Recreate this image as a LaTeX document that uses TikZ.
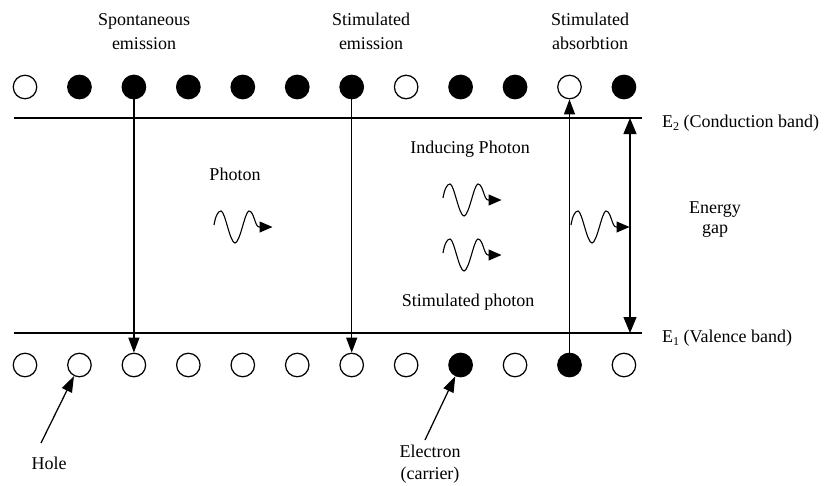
\documentclass[tikz,border=0pt]{standalone}
\usepackage{fontspec}
\setmainfont{Liberation Serif}
\usetikzlibrary{arrows.meta}
\begin{document}
\begin{tikzpicture}[x=1pt,y=-1pt,
  lw/.style={line width=1.25pt},
  hole/.style={circle, draw, lw, minimum size=23.5pt, inner sep=0pt, fill=white},
  elec/.style={hole, fill=black},
  band/.style={line width=1.3pt},
  trans/.style={lw, -{Triangle[length=15pt,width=11pt]}},
  gaparrow/.style={lw, {Triangle[length=16pt,width=13pt]}-{Triangle[length=16pt,width=13pt]}},
  pointer/.style={lw, -{Triangle[length=16pt,width=11pt]}},
  lbl/.style={font=\fontsize{18}{22}\selectfont, inner sep=0pt, anchor=base},
  wave/.style={line width=1.1pt, -{Triangle[length=13pt,width=11pt]}},
  photon/.pic={\draw[wave] (0,0) .. controls (1.5,-9) and (4,-14) .. (7,-14)
     .. controls (11,-14) and (16,18) .. (21,18)
     .. controls (26,18) and (31,-14) .. (35,-14)
     .. controls (40,-14) and (41,2) .. (45,2) -- (58.5,2);}
]
\fill[white] (0,0) rectangle (830,485);
\useasboundingbox (0,0) rectangle (830,485);

% energy bands
\coordinate (tl) at (14,118);
\coordinate (tr) at (642,118);
\coordinate (bl) at (14,333);
\coordinate (br) at (642,333);
\draw[band] (tl) -- (tr);
\draw[band] (bl) -- (br);

% carriers
\foreach \i/\s in {1/hole,2/elec,3/elec,4/elec,5/elec,6/elec,7/elec,8/hole,9/elec,10/elec,11/hole,12/elec}
  \node[\s] (t\i) at ({25+54.45*(\i-1)},87) {};
\foreach \i/\s in {1/hole,2/hole,3/hole,4/hole,5/hole,6/hole,7/hole,8/hole,9/elec,10/hole,11/elec,12/hole}
  \node[\s] (b\i) at ({25+54.45*(\i-1)},365) {};

% transitions
\draw[trans] (t3) -- (b3);
\draw[trans] (t7) -- (b7);
\draw[trans] (b11) -- (t11);

% energy gap
\coordinate (g1) at (630,118);
\coordinate (g2) at (630,333);
\draw[gaparrow] (g1) -- (g2);

% photons
\pic at (214,225) {photon};
\pic at (443,198) {photon};
\pic at (443,253) {photon};
\pic at (571,225) {photon};

% pointers
\coordinate (holetail) at (41,443);
\coordinate (etail) at (425,440);
\draw[pointer] (holetail) -- (b2);
\draw[pointer] (etail) -- (b9);

% labels
\node[lbl] (sp1) at (144,25) {Spontaneous};
\node[lbl] (sp2) at (144,49) {emission};
\node[lbl] (se1) at (371,25) {Stimulated};
\node[lbl] (se2) at (371,49) {emission};
\node[lbl] (sa1) at (590,25) {Stimulated};
\node[lbl] (sa2) at (590,49) {absorbtion};
\node[lbl] (ph) at (235,180) {Photon};
\node[lbl] (ind) at (470,153) {Inducing Photon};
\node[lbl] (stp) at (468,306) {Stimulated photon};
\node[lbl, anchor=base west] (e2) at (662,127) {E{\fontsize{12}{12}\selectfont\raisebox{-3pt}{2}} (Conduction band)};
\node[lbl, anchor=base west] (e1) at (662,342) {E{\fontsize{12}{12}\selectfont\raisebox{-3pt}{1}} (Valence band)};
\node[lbl] (en1) at (715,213) {Energy};
\node[lbl] (en2) at (715,233) {gap};
\node[lbl] (hl) at (49,469) {Hole};
\node[lbl] (el1) at (430,457) {Electron};
\node[lbl] (el2) at (430,479) {(carrier)};
\end{tikzpicture}
\end{document}
